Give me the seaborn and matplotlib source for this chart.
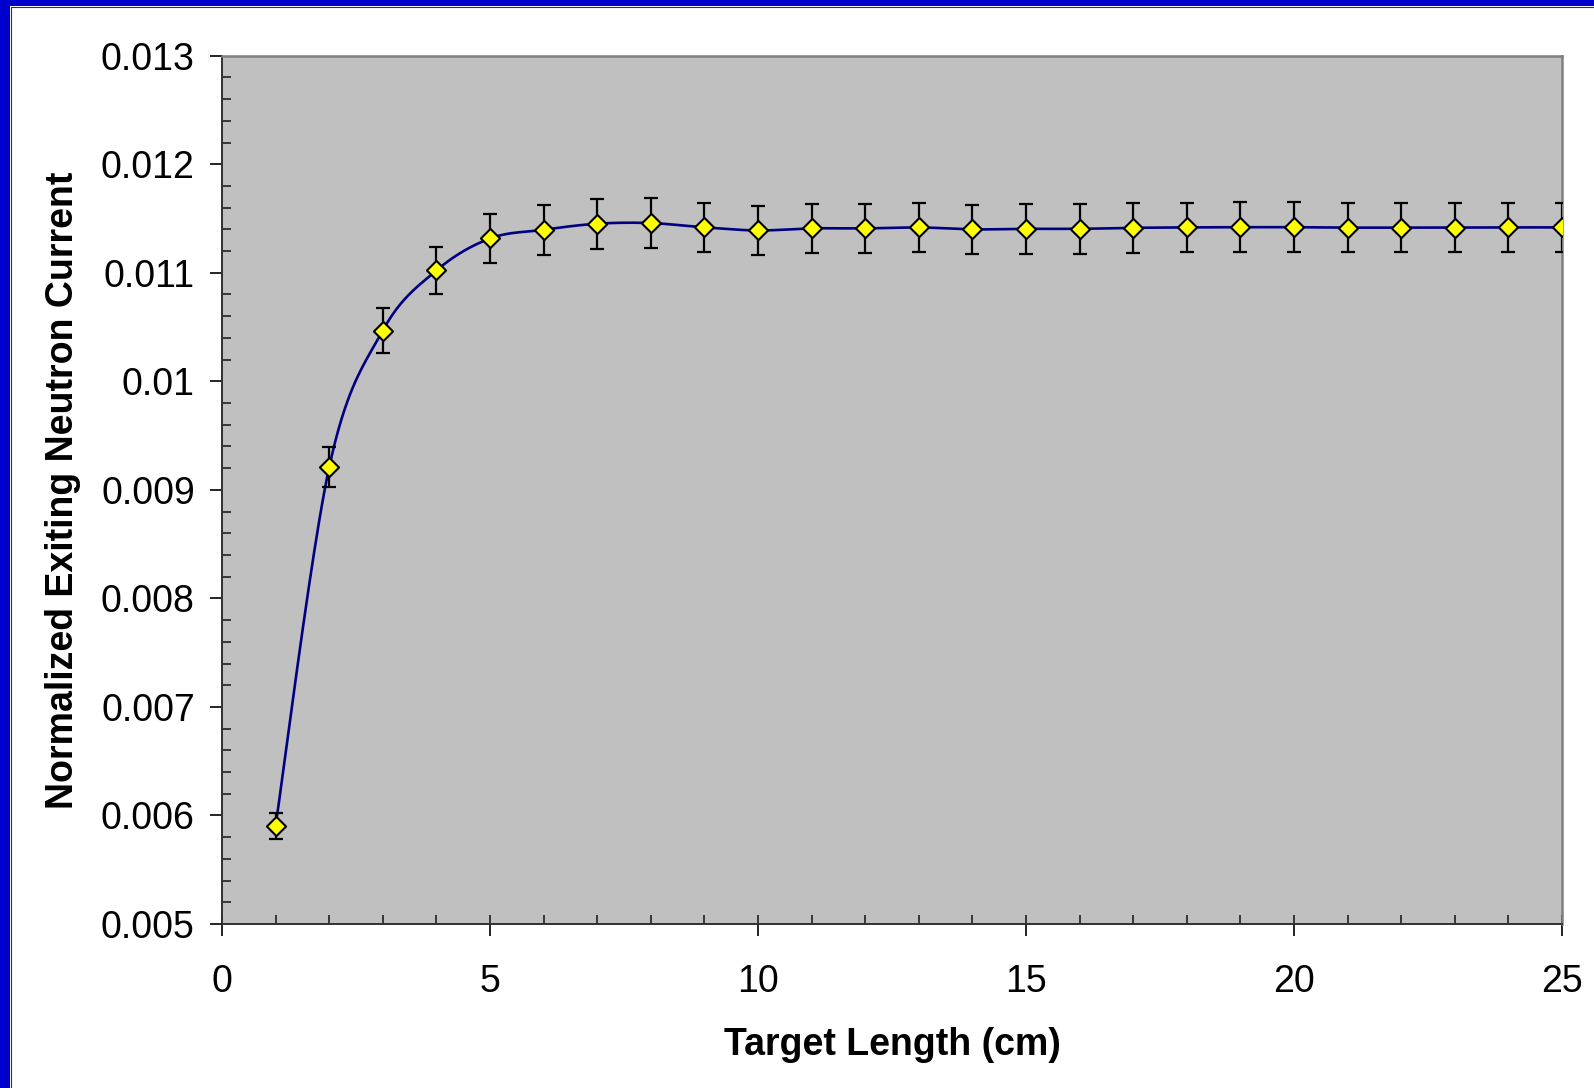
import numpy as np
import pandas as pd
import matplotlib
matplotlib.use("Agg")
import matplotlib.pyplot as plt
import seaborn as sns
from matplotlib.ticker import MultipleLocator, FuncFormatter
from matplotlib.patches import Rectangle
from matplotlib.lines import Line2D

# data
target_length = [1, 2, 3, 4, 5, 6, 7, 8, 9, 10, 11, 12, 13,
                 14, 15, 16, 17, 18, 19, 20, 21, 22, 23, 24, 25]
current = [0.005906, 0.009209, 0.010468, 0.011021, 0.011316, 0.011396, 0.011452,
           0.011458, 0.011418, 0.011390, 0.011409, 0.011409, 0.011418, 0.011400,
           0.011405, 0.011405, 0.011414, 0.011418, 0.011420, 0.011420, 0.011416,
           0.011416, 0.011416, 0.011418, 0.011418]
current_err = [0.000120, 0.000187, 0.000209, 0.000221, 0.000227, 0.000229, 0.000229,
               0.000232, 0.000229, 0.000228, 0.000228, 0.000228, 0.000229, 0.000228,
               0.000228, 0.000228, 0.000228, 0.000229, 0.000229, 0.000229, 0.000229,
               0.000229, 0.000229, 0.000229, 0.000229]


def excel_smooth(x, y, n=40):
    # smoothed line like the spreadsheet one (Catmull-Rom style Bezier)
    pts = np.column_stack([x, y]).astype(float)
    p = np.vstack([pts[0], pts, pts[-1]])
    t = np.linspace(0, 1, n)[:, None]
    out = []
    for i in range(len(pts) - 1):
        p0, p1, p2, p3 = p[i], p[i + 1], p[i + 2], p[i + 3]
        c1 = p1 + (p2 - p0) / 6
        c2 = p2 - (p3 - p1) / 6
        seg = (1 - t) ** 3 * p1 + 3 * (1 - t) ** 2 * t * c1 + 3 * (1 - t) * t ** 2 * c2 + t ** 3 * p2
        out.append(seg if i == 0 else seg[1:])
    return np.vstack(out)


df = pd.DataFrame({'Target Length': target_length, 'Current': current, 'Err': current_err})
curve = excel_smooth(df['Target Length'], df['Current'])
curve_df = pd.DataFrame({'x': curve[:, 0], 'y': curve[:, 1]})

sns.set_style("ticks")
plt.rcParams['font.family'] = ['Liberation Sans', 'DejaVu Sans']
plt.rcParams['text.color'] = 'black'
plt.rcParams['axes.labelcolor'] = 'black'
plt.rcParams['xtick.color'] = 'black'
plt.rcParams['ytick.color'] = 'black'

fig = plt.figure(figsize=(15.94, 10.88), dpi=100)
ax = fig.add_axes([222 / 1594, 1 - 924 / 1088, 1340 / 1594, (924 - 55.7) / 1088])
ax.set_facecolor('#C0C0C0')

sns.lineplot(data=curve_df, x='x', y='y', sort=False, color='#000080',
             linewidth=1.9, ax=ax, zorder=2)
ax.errorbar(df['Target Length'], df['Current'], yerr=df['Err'], fmt='none',
            ecolor='black', elinewidth=1.6, capsize=5, capthick=1.6, zorder=3)
sns.scatterplot(data=df, x='Target Length', y='Current', marker='D', s=95,
                color='#FFFF00', edgecolor='black', linewidth=1.5, ax=ax, zorder=4)

ax.set_xlim(0, 25)
ax.set_ylim(0.005, 0.013)
ax.xaxis.set_major_locator(MultipleLocator(5))
ax.xaxis.set_minor_locator(MultipleLocator(1))
ax.yaxis.set_major_locator(MultipleLocator(0.001))
ax.yaxis.set_minor_locator(MultipleLocator(0.0002))
ax.xaxis.remove_overlapping_locs = False
ax.yaxis.set_major_formatter(FuncFormatter(lambda v, p: f"{v:.3f}".rstrip('0')))

ax.tick_params(axis='both', which='major', direction='out', length=8.6, width=1.2,
               labelsize=27, color='black', labelcolor='black')
ax.tick_params(axis='both', which='minor', direction='in', length=6.5, width=1.2,
               color='#202020')
ax.tick_params(axis='x', which='major', pad=20)
ax.tick_params(axis='y', which='major', pad=11)

for side in ['left', 'bottom']:
    ax.spines[side].set_color('#303030')
    ax.spines[side].set_linewidth(1.4)
for side in ['top', 'right']:
    ax.spines[side].set_color('#808080')
    ax.spines[side].set_linewidth(1.8)

ax.set_xlabel('Target Length (cm)', fontsize=27, fontweight='bold', color='black')
ax.set_ylabel('Normalized Exiting Neutron Current', fontsize=27, fontweight='bold',
              color='black')
ax.xaxis.set_label_coords(0.5, -0.119)
ax.yaxis.set_label_coords(-0.105, 0.5)

# blue frame on the top and left edges
fig.patches.append(Rectangle((0, 1 - 6 / 1088), 1, 6 / 1088, transform=fig.transFigure,
                             facecolor='#0000CC', edgecolor='none'))
fig.patches.append(Rectangle((0, 0), 10 / 1594, 1, transform=fig.transFigure,
                             facecolor='#0000CC', edgecolor='none'))
fig.lines.append(Line2D([10.5 / 1594, 1], [1 - 6.5 / 1088, 1 - 6.5 / 1088],
                        transform=fig.transFigure, color='#333333', linewidth=0.8))
fig.lines.append(Line2D([10.5 / 1594, 10.5 / 1594], [0, 1 - 6.5 / 1088],
                        transform=fig.transFigure, color='#333333', linewidth=0.8))

fig.savefig('out.png', dpi=100)
